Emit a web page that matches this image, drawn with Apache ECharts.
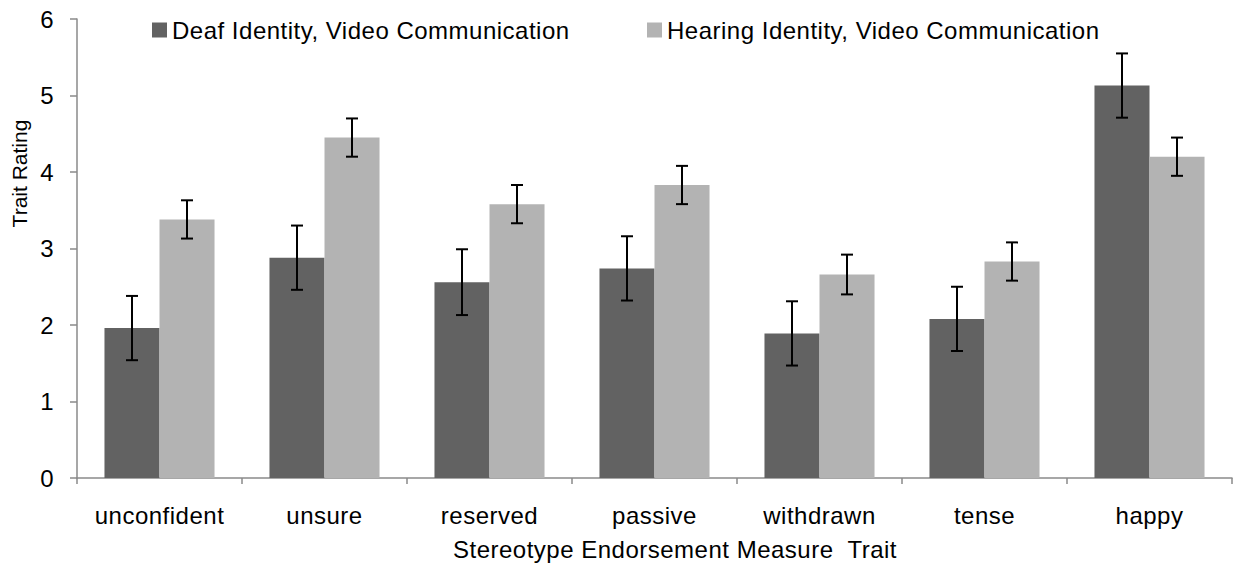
<!DOCTYPE html>
<html>
<head>
<meta charset="utf-8">
<script src="https://cdn.jsdelivr.net/npm/echarts@6/dist/echarts.min.js"></script>
<style>
  html, body { margin: 0; padding: 0; background: #ffffff; }
  #chart { width: 1238px; height: 571px; }
  #chart text { letter-spacing: 0.5px; white-space: pre; }
</style>
</head>
<body>
<div id="chart"></div>
<script>
// Trait ratings by identity condition (means with error bars)
const categories = ['unconfident', 'unsure', 'reserved', 'passive', 'withdrawn', 'tense', 'happy'];
const seriesNames = ['Deaf Identity, Video Communication', 'Hearing Identity, Video Communication'];
const deafMeans = [1.96, 2.88, 2.56, 2.74, 1.89, 2.08, 5.13];
const deafErrors = [0.42, 0.42, 0.43, 0.42, 0.42, 0.42, 0.42];
const hearingMeans = [3.38, 4.45, 3.58, 3.83, 2.66, 2.83, 4.20];
const hearingErrors = [0.25, 0.25, 0.25, 0.25, 0.26, 0.25, 0.25];
const yTicks = [0, 1, 2, 3, 4, 5, 6];
const xTitle = 'Stereotype Endorsement Measure  Trait';
const yTitle = 'Trait Rating';

const FONT = "'Liberation Sans', Arial, sans-serif";
const AXIS_GRAY = '#8a8a8a';
const DEAF_COLOR = '#626262';
const HEARING_COLOR = '#b3b3b3';

const chart = echarts.init(document.getElementById('chart'), null, { renderer: 'svg' });

// Error bar drawn at the centre of each bar in its category band
function errorBars(side) {
  return function (params, api) {
    const idx = api.value(0);
    const mean = api.value(1);
    const err = api.value(2);
    const band = api.size([1, 0])[0];
    const cx = api.coord([idx, mean])[0] + side * band / 6;
    const yTop = api.coord([idx, mean + err])[1];
    const yBot = api.coord([idx, mean - err])[1];
    const half = 6;
    const style = { stroke: '#000', lineWidth: 2 };
    return {
      type: 'group',
      children: [
        { type: 'line', shape: { x1: cx, y1: yTop, x2: cx, y2: yBot }, style },
        { type: 'line', shape: { x1: cx - half, y1: yTop, x2: cx + half, y2: yTop }, style },
        { type: 'line', shape: { x1: cx - half, y1: yBot, x2: cx + half, y2: yBot }, style }
      ]
    };
  };
}

const deafErrData = deafMeans.map((v, i) => [i, v, deafErrors[i]]);
const hearingErrData = hearingMeans.map((v, i) => [i, v, hearingErrors[i]]);

const legendBase = {
  top: 18,
  padding: 0,
  itemWidth: 15,
  itemHeight: 15,
  icon: 'rect',
  selectedMode: false,
  textStyle: { fontFamily: FONT, fontSize: 24, color: '#000' }
};

chart.setOption({
  animation: false,
  backgroundColor: '#ffffff',
  textStyle: { fontFamily: FONT },
  grid: { left: 77, right: 6, top: 19, bottom: 93, containLabel: false },
  legend: [
    Object.assign({}, legendBase, { left: 152, data: [seriesNames[0]] }),
    Object.assign({}, legendBase, { left: 647, data: [seriesNames[1]] })
  ],
  xAxis: {
    type: 'category',
    data: categories,
    boundaryGap: true,
    name: xTitle,
    nameLocation: 'middle',
    nameGap: 59,
    nameTextStyle: { fontFamily: FONT, fontSize: 24, color: '#000', padding: [0, 0, 0, 41] },
    axisLine: { show: true, lineStyle: { color: AXIS_GRAY, width: 1.5 } },
    axisTick: { show: true, alignWithLabel: false, length: 6, lineStyle: { color: AXIS_GRAY, width: 1.5 } },
    axisLabel: { fontFamily: FONT, fontSize: 24, color: '#000', margin: 25 },
    splitLine: { show: false }
  },
  yAxis: {
    type: 'value',
    min: yTicks[0],
    max: yTicks[yTicks.length - 1],
    interval: 1,
    name: yTitle,
    nameLocation: 'middle',
    nameRotate: 90,
    nameGap: 44,
    nameTextStyle: { fontFamily: FONT, fontSize: 21, color: '#000', padding: [0, 0, 0, 150] },
    axisLine: { show: true, lineStyle: { color: AXIS_GRAY, width: 1.5 } },
    axisTick: { show: true, length: 7, lineStyle: { color: AXIS_GRAY, width: 1.5 } },
    axisLabel: { fontFamily: FONT, fontSize: 24, color: '#000', margin: 23 },
    splitLine: { show: false }
  },
  series: [
    {
      name: seriesNames[0],
      type: 'bar',
      data: deafMeans,
      barGap: '0%',
      barCategoryGap: '33.3%',
      itemStyle: { color: DEAF_COLOR }
    },
    {
      name: seriesNames[1],
      type: 'bar',
      data: hearingMeans,
      barGap: '0%',
      barCategoryGap: '33.3%',
      itemStyle: { color: HEARING_COLOR }
    },
    {
      name: seriesNames[0] + ' error',
      type: 'custom',
      renderItem: errorBars(-1),
      data: deafErrData,
      encode: { x: 0, y: 1 },
      z: 5
    },
    {
      name: seriesNames[1] + ' error',
      type: 'custom',
      renderItem: errorBars(1),
      data: hearingErrData,
      encode: { x: 0, y: 1 },
      z: 5
    }
  ]
});

// The rotated y-axis title keeps normal letter spacing
function plainYTitle() {
  document.querySelectorAll('#chart text').forEach(function (t) {
    if (t.textContent === yTitle) t.style.letterSpacing = '0px';
  });
}
chart.on('finished', plainYTitle);
setTimeout(plainYTitle, 0);
</script>
</body>
</html>
